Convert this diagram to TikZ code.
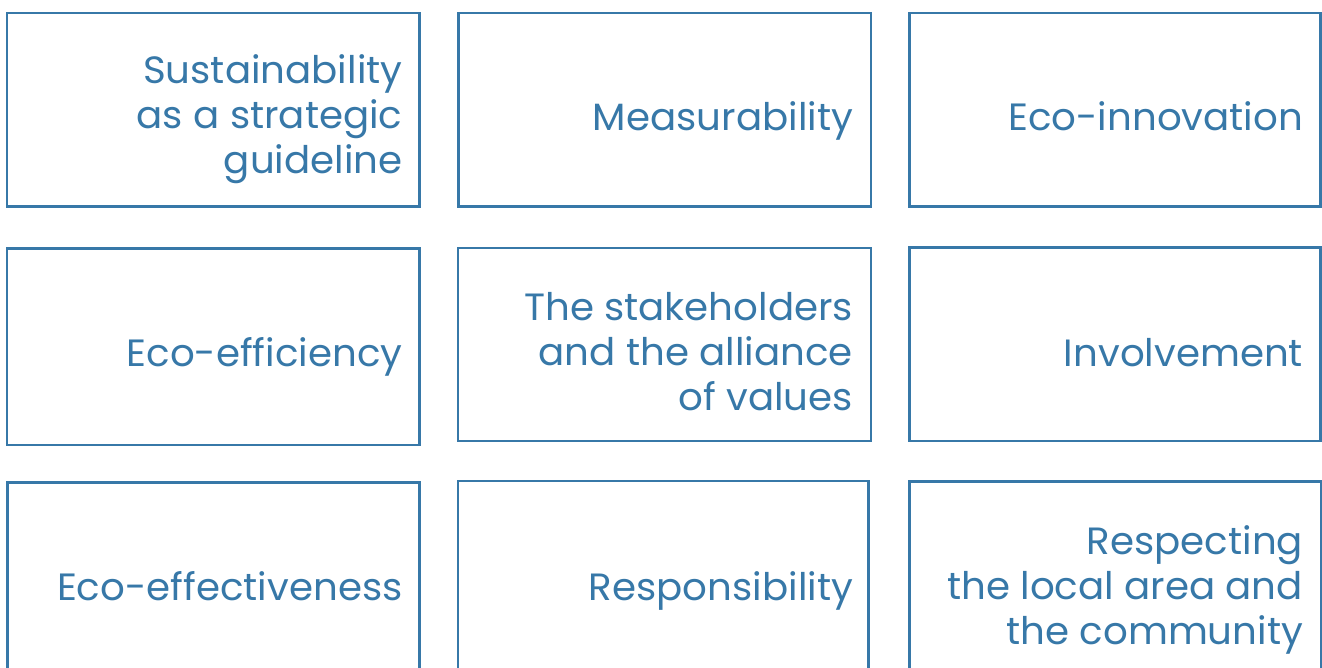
\documentclass[tikz,border=0pt]{standalone}
\usepackage{fontspec}
\setmainfont[FakeStretch=1.02]{Poppins}
\definecolor{frameblue}{HTML}{3778A8}
\begin{document}
\begin{tikzpicture}[x=1pt,y=-1pt,
  box/.style={draw=frameblue, line width=2.6pt, inner sep=0pt, outer sep=0pt, rectangle},
  lbl/.style={text=frameblue, inner sep=0pt, outer sep=0pt, align=right,
    font=\fontsize{38}{45}\selectfont, anchor=base east}]
\useasboundingbox (0,0) rectangle (1322,668);
\clip (0,0) rectangle (1322,668);
% frames, row by row
\node[box, minimum width=412.5pt, minimum height=193.5pt] (b1) at (213.25,109.75) {};
\node[box, minimum width=412.5pt, minimum height=193.5pt] (b2) at (664.75,109.75) {};
\node[box, minimum width=411pt,   minimum height=193.5pt] (b3) at (1115,109.75) {};
\node[box, minimum width=412.5pt, minimum height=196.5pt] (b4) at (213.25,346.75) {};
\node[box, minimum width=413pt,   minimum height=193pt]   (b5) at (664.5,344.5) {};
\node[box, minimum width=411pt,   minimum height=193.5pt] (b6) at (1115,344.25) {};
\node[box, minimum width=412pt,   minimum height=217.5pt] (b7) at (213.5,591.25) {};
\node[box, minimum width=410.5pt, minimum height=219pt]   (b8) at (663.25,590.5) {};
\node[box, minimum width=411.5pt, minimum height=218.5pt] (b9) at (1115.25,590.75) {};
% labels, right aligned inside each frame (anchored on the last line)
\node[lbl] (t1) at (402.5,174) {Sustainability\\as a strategic\\guideline};
\node[lbl] (t2) at (853,131) {Measurability};
\node[lbl] (t3) at (1303,131) {Eco-innovation};
\node[lbl] (t4) at (402.5,366) {Eco-efficiency};
\node[lbl] (t5) at (853,410) {The stakeholders\\and the alliance\\of values};
\node[lbl] (t6) at (1303,366) {Involvement};
\node[lbl] (t7) at (402.5,600) {Eco-effectiveness};
\node[lbl] (t8) at (853,600) {Responsibility};
\node[lbl] (t9) at (1303,644) {Respecting\\the local area and\\the community};
\end{tikzpicture}
\end{document}
